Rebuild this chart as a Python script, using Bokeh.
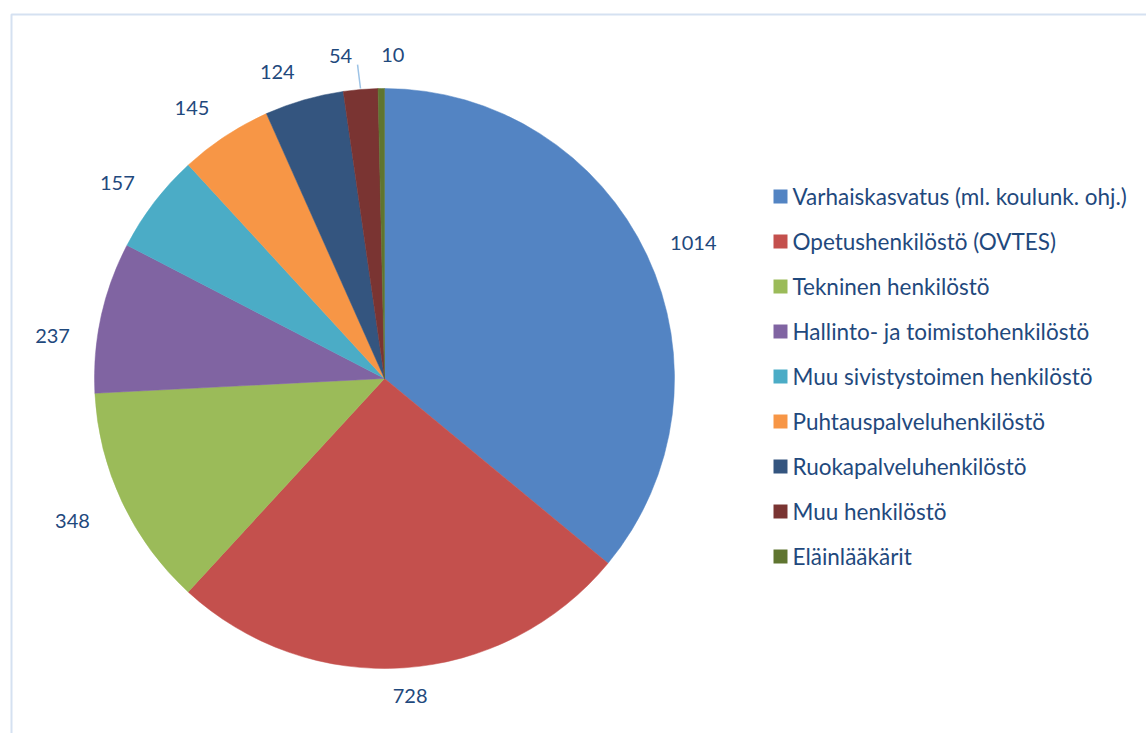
import numpy as np
from bokeh.plotting import figure
from bokeh.models import Range1d, ColumnDataSource
from bokeh.core.properties import value
from bokeh.embed import file_html
from bokeh.resources import INLINE

categories = ["Varhaiskasvatus (ml. koulunk. ohj.)", "Opetushenkilöstö (OVTES)",
              "Tekninen henkilöstö", "Hallinto- ja toimistohenkilöstö",
              "Muu sivistystoimen henkilöstö", "Puhtauspalveluhenkilöstö",
              "Ruokapalveluhenkilöstö", "Muu henkilöstö", "Eläinlääkärit"]
counts = [1014, 728, 348, 237, 157, 145, 124, 54, 10]
colors = ["#5384C3", "#C4504D", "#9BBB59", "#8064A2", "#4BACC6",
          "#F79646", "#34557F", "#7A3432", "#5F7530"]
# small pixel nudges for label placement (layout only)
nudge_x = [3, 3, -11, -7, -3, -10, -15, -17, 12]
nudge_y = [3, -8, 4, 27, 3, 2, 7, 2, 2]

W, H = 1146, 733
CX, CY, R = 384, H - 378, 290
GAP = 26
FONT = "Lato"
TXT = "#1F497D"

p = figure(width=W, height=H, x_range=Range1d(0, W), y_range=Range1d(0, H),
           output_backend="svg", toolbar_location=None, min_border=0,
           x_axis_location=None, y_axis_location=None)
p.grid.visible = False
p.outline_line_color = None
p.background_fill_color = "white"

# chart frame (partly cropped)
p.line([11, 11, W + 5], [-5, H - 14, H - 14], line_color="#D5E1F1", line_width=2)

vals = np.array(counts, dtype=float)
total = vals.sum()
ends_frac = np.cumsum(vals) / total
starts_frac = ends_frac - vals / total
start_ang = np.pi / 2 - 2 * np.pi * starts_frac
end_ang = np.pi / 2 - 2 * np.pi * ends_frac
mid_ang = (start_ang + end_ang) / 2

src = ColumnDataSource(dict(start=start_ang, end=end_ang, color=colors))
p.wedge(x=CX, y=CY, radius=R, start_angle="start", end_angle="end",
        direction="clock", fill_color="color", line_color="color", line_width=0.5,
        source=src)

# labels
lx, ly, ltxt = [], [], []
for i, v in enumerate(counts):
    t = str(v)
    w = 11 * len(t)
    h = 20
    c, s = np.cos(mid_ang[i]), np.sin(mid_ang[i])
    x = CX + (R + GAP) * c + w / 2 * c + nudge_x[i]
    y = CY + (R + GAP) * s + h / 2 * s - nudge_y[i]
    lx.append(x); ly.append(y); ltxt.append(t)
p.text(x=lx, y=ly, text=ltxt, text_font=value(FONT), text_font_size="20px",
       text_color=TXT, text_align="center", text_baseline="middle")

# leader line for the "54" label
i54 = counts.index(54)
ex = CX + (R + 1) * np.cos(mid_ang[i54])
ey = CY + (R + 1) * np.sin(mid_ang[i54])
p.line([ex, lx[i54] + 17], [ey, ly[i54] - 9], line_color="#9DC3E6", line_width=1.5)

# legend
n = len(categories)
leg_y = [H - (196 + 45 * k) for k in range(n)]
p.rect(x=[780] * n, y=leg_y, width=14, height=14, fill_color=colors, line_color=None)
p.text(x=[792] * n, y=leg_y, text=categories, text_font=value(FONT),
       text_font_size="22.5px", text_color=TXT, text_align="left", text_baseline="middle")

open("out.html", "w").write(file_html(p, INLINE))
